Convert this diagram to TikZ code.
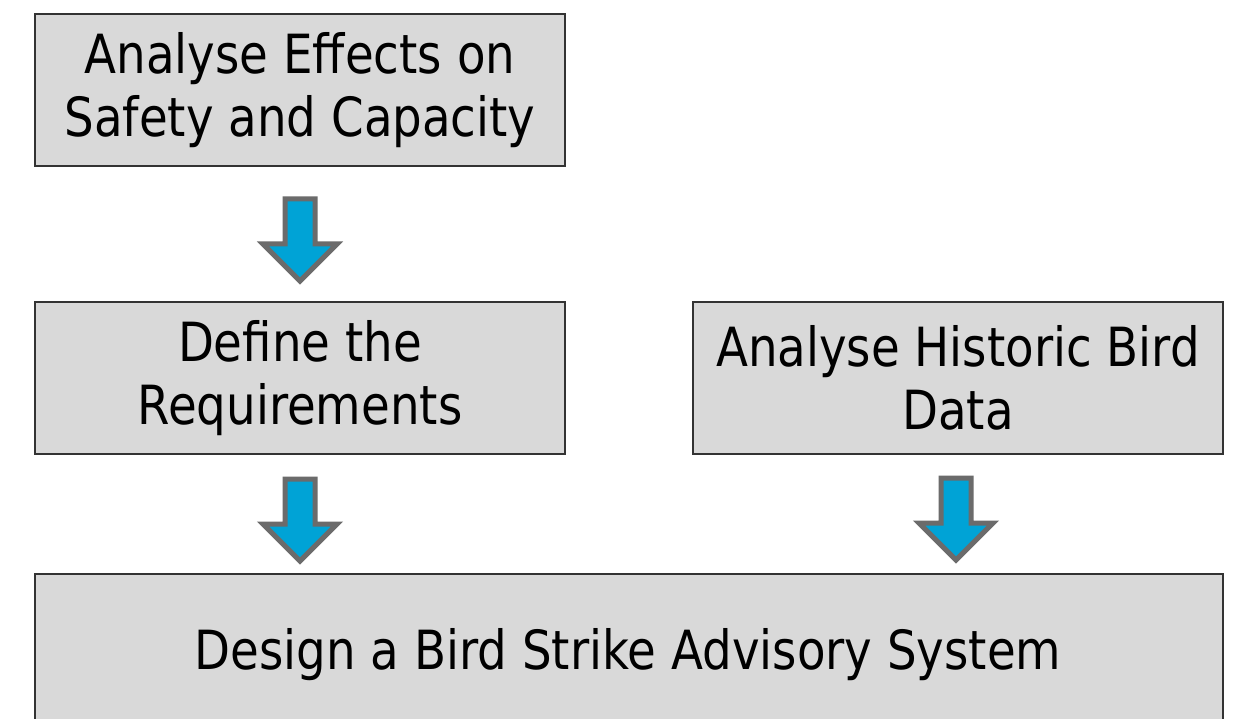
\documentclass[tikz,border=0pt]{standalone}
\usepackage{fontspec}
\setmainfont{DejaVu Sans}[FakeStretch=0.865]
\begin{document}
\begin{tikzpicture}[x=1pt,y=1pt,
  box/.style={draw=black!80,line width=2pt,fill=boxgray,inner sep=0pt,align=center,
    font=\fontsize{54}{63}\selectfont},
  blockarrow/.pic={
    \draw[line width=5pt,draw=arrowgray,fill=arrowblue,line join=miter]
      (-15,0) -- (15,0) -- (15,-45) -- (37,-45) -- (0,-82) -- (-37,-45) -- (-15,-45) -- cycle;
  }]
\definecolor{boxgray}{HTML}{D9D9D9}
\definecolor{arrowgray}{HTML}{6B6B6B}
\definecolor{arrowblue}{HTML}{00A3D6}
\useasboundingbox (0,0) rectangle (1242,-719);
\fill[white] (0,0) rectangle (1242,-719);
\begin{scope}
\clip (0,0) rectangle (1242,-719);
\node[box,minimum width=530,minimum height=152,anchor=north west] (effects) at (34,-13) {Analyse Effects on\\Safety and Capacity};
\node[box,minimum width=530,minimum height=152,anchor=north west] (require) at (34,-301) {Define the\\Requirements};
\node[box,minimum width=530,minimum height=152,anchor=north west] (historic) at (692,-301) {Analyse Historic Bird\\Data};
\node[box,minimum width=1188,minimum height=170,anchor=north west] (design) at (34,-573) {};
\node[font=\fontsize{54}{63}\selectfont,anchor=center] (designtext) at (628,-655) {Design a Bird Strike Advisory System};
\end{scope}
\coordinate (a1) at (300,-199);
\coordinate (a2) at (300,-479);
\coordinate (a3) at (956,-478);
\pic at (a1) {blockarrow};
\pic at (a2) {blockarrow};
\pic at (a3) {blockarrow};
\end{tikzpicture}
\end{document}
